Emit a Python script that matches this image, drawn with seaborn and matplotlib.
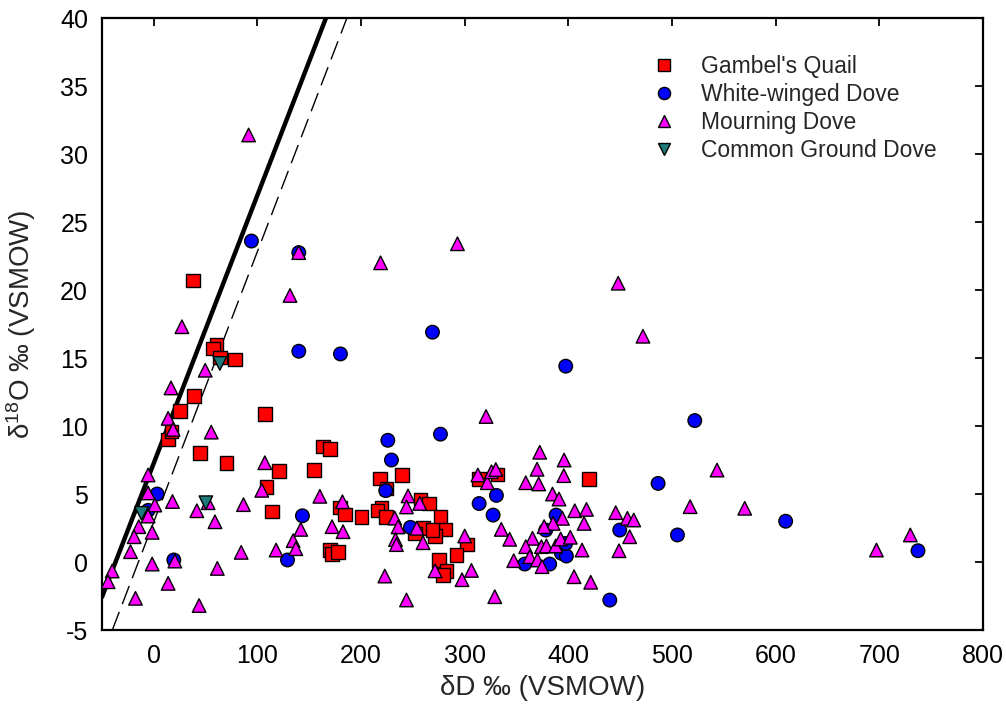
import matplotlib
matplotlib.use("Agg")
import matplotlib.pyplot as plt
import numpy as np
import pandas as pd
import seaborn as sns

# ---------------- data ----------------
species = ["Gambel's Quail", "White-winged Dove", "Mourning Dove", "Common Ground Dove"]

quail_dD = [37.9, 60.5, 57.2, 63.7, 78.1, 38.9, 25.1, 107.1, 13.8, 17.1, 44.4, 70.1,
            163.4, 169.8, 120.6, 154.4, 108.7, 114.2, 179.5, 184.3, 169.8, 172.0, 177.8,
            200.4, 218.0, 239.6, 224.5, 219.6, 215.7, 223.8, 257.3, 265.3, 276.6, 281.4,
            259.8, 251.8, 271.1, 268.9, 302.3, 292.0, 275.0, 282.4, 279.1, 313.9, 331.6, 420.0]
quail_d18O = [20.7, 16.0, 15.7, 15.05, 14.9, 12.2, 11.1, 10.9, 9.0, 9.6, 8.0, 7.3,
              8.5, 8.3, 6.7, 6.75, 5.5, 3.7, 4.0, 3.5, 0.9, 0.6, 0.75,
              3.3, 6.15, 6.4, 5.4, 4.0, 3.8, 3.3, 4.6, 4.3, 3.3, 2.4,
              2.5, 2.1, 1.9, 2.35, 1.3, 0.5, 0.15, -0.65, -0.95, 6.1, 6.45, 6.1]

wwd_dD = [94.2, 139.9, 139.9, 180.1, 268.9, 397.5, 522.0, 276.6, 225.8, 229.3, 223.8,
          3.2, -5.5, 19.3, 143.4, 129.0, 247.6, 313.9, 330.6, 327.4, 388.2, 378.2,
          357.9, 382.0, 393.3, 398.1, 397.5, 440.0, 449.6, 486.6, 505.3, 609.7, 737.4]
wwd_d18O = [23.6, 22.75, 15.5, 15.3, 16.9, 14.4, 10.4, 9.4, 8.95, 7.5, 5.25,
            5.0, 3.8, 0.15, 3.4, 0.15, 2.55, 4.3, 4.9, 3.45, 3.45, 2.35,
            -0.15, -0.15, 0.64, 0.44, 1.37, -2.8, 2.35, 5.78, 1.99, 3.0, 0.83]

md_dD = [91.5, 139.8, 218.8, 293.0, 131.4, 448.1, 472.0, 27.1, 49.6, 16.6, 13.8, 18.6,
         55.4, -5.5, -5.5, 1.0, 18.0, -5.5, -14.5, -1.6, -19.0, -22.5, -40.2, -44.1,
         -1.6, 20.3, 13.8, -17.7, 43.7, 41.5, 52.4, 59.0, 86.5, 84.3, 61.3, 107.1,
         104.2, 160.2, 141.8, 134.4, 137.0, 118.0, 172.0, 182.6, 182.0, 222.9, 243.8,
         232.5, 235.7, 233.2, 234.1, 245.3, 243.8, 256.6, 253.8, 259.8, 271.4, 297.4,
         306.5, 300.0, 320.6, 312.7, 321.8, 325.8, 330.0, 329.0, 372.4, 395.9, 369.8,
         395.6, 358.9, 371.4, 384.7, 391.0, 406.2, 417.5, 415.2, 394.3, 385.3, 376.6,
         335.3, 343.4, 365.4, 358.9, 374.0, 378.8, 387.8, 392.6, 401.9, 413.2, 362.8,
         347.3, 370.2, 374.6, 405.5, 421.6, 445.7, 457.0, 463.1, 459.2, 448.9, 517.5,
         543.5, 570.2, 697.3, 730.0]
md_d18O = [31.4, 22.75, 22.0, 23.4, 19.6, 20.5, 16.6, 17.3, 14.1, 12.8, 10.56, 9.75,
           9.55, 6.4, 5.08, 4.19, 4.45, 3.38, 2.6, 2.18, 1.86, 0.76, -0.66, -1.45,
           -0.15, 0.07, -1.57, -2.67, -3.2, 3.77, 4.36, 2.96, 4.22, 0.71, -0.47, 7.3,
           5.27, 4.83, 2.4, 1.57, 0.98, 0.88, 2.6, 2.23, 4.43, -1.03, -2.79,
           3.23, 2.58, 1.65, 1.28, 4.86, 4.05, 4.31, 2.48, 1.42, -0.65, -1.3,
           -0.62, 1.91, 10.7, 6.4, 5.83, 6.64, 6.8, -2.55, 8.07, 7.5, 6.82,
           6.35, 5.83, 5.74, 5.0, 4.63, 3.77, 3.87, 2.84, 3.21, 2.84, 2.6,
           2.4, 1.67, 1.74, 1.13, 1.13, 1.18, 1.18, 1.69, 1.82, 0.88, 0.39,
           0.1, 0.15, -0.34, -1.08, -1.49, 3.63, 3.21, 3.09, 1.86, 0.83, 4.07,
           6.76, 3.95, 0.88, 1.99]

cgd_dD = [63.7, 50.2, -11.9]
cgd_d18O = [14.6, 4.36, 3.58]

# reference lines: d18O = slope * dD + intercept
solid_slope, solid_intercept = 0.197, 7.28
dashed_slope, dashed_intercept = 0.1988, 2.96

x_ticks = [0, 100, 200, 300, 400, 500, 600, 700, 800]
y_ticks = [-5, 0, 5, 10, 15, 20, 25, 30, 35, 40]

# ---------------- build table ----------------
frames = []
for name, xs, ys in zip(species,
                        [quail_dD, wwd_dD, md_dD, cgd_dD],
                        [quail_d18O, wwd_d18O, md_d18O, cgd_d18O]):
    frames.append(pd.DataFrame({"dD": xs, "d18O": ys, "species": name}))
df = pd.concat(frames, ignore_index=True)

palette = {"Gambel's Quail": "#FF0000", "White-winged Dove": "#0000FF",
           "Mourning Dove": "#FF00FF", "Common Ground Dove": "#1E7B7B"}
markers = {"Gambel's Quail": "s", "White-winged Dove": "o",
           "Mourning Dove": "^", "Common Ground Dove": "v"}

sns.set_style("white")
plt.rcParams["font.family"] = ["Liberation Sans", "DejaVu Sans"]
plt.rcParams["mathtext.fontset"] = "custom"
plt.rcParams["mathtext.rm"] = "Liberation Sans"
plt.rcParams["mathtext.it"] = "Liberation Sans:italic"

fig = plt.figure(figsize=(10.06, 7.23), dpi=100)
ax = fig.add_axes([0.1014, 0.1286, 0.8756, 0.8465])

ax.axline((0, solid_intercept), slope=solid_slope, color="black", lw=3.2, zorder=1)
ax.axline((0, dashed_intercept), slope=dashed_slope, color="black", lw=1.0,
          dashes=(14, 6), zorder=1)

sns.scatterplot(data=df, x="dD", y="d18O", hue="species", style="species",
                palette=palette, markers=markers, hue_order=species, style_order=species,
                s=95, edgecolor="black", linewidth=1.0, ax=ax, zorder=3)

ax.set_xlim(-50, 800)
ax.set_ylim(-5, 40)
ax.set_xticks(x_ticks)
ax.set_yticks(y_ticks)
ax.set_xticklabels([str(t) for t in x_ticks])
ax.set_yticklabels([str(t) for t in y_ticks])
ax.tick_params(direction="in", length=6, width=1.3, top=True, right=True,
               labelsize=18, colors="black")
ax.tick_params(axis="x", pad=10)
ax.tick_params(axis="y", pad=10)
for sp in ax.spines.values():
    sp.set_visible(True)
    sp.set_linewidth(1.6)
    sp.set_color("black")

ax.set_xlabel("δD ‰ (VSMOW)", fontsize=20, labelpad=5)
ax.set_ylabel(r"δ$^{18}$O ‰ (VSMOW)", fontsize=20, labelpad=16)

sns.move_legend(ax, loc="upper left", bbox_to_anchor=(0.589, 0.973), frameon=False,
                title=None, fontsize=16.5, labelspacing=0.22, handletextpad=0.6,
                markerscale=0.9)

fig.savefig("out.png", dpi=100)
